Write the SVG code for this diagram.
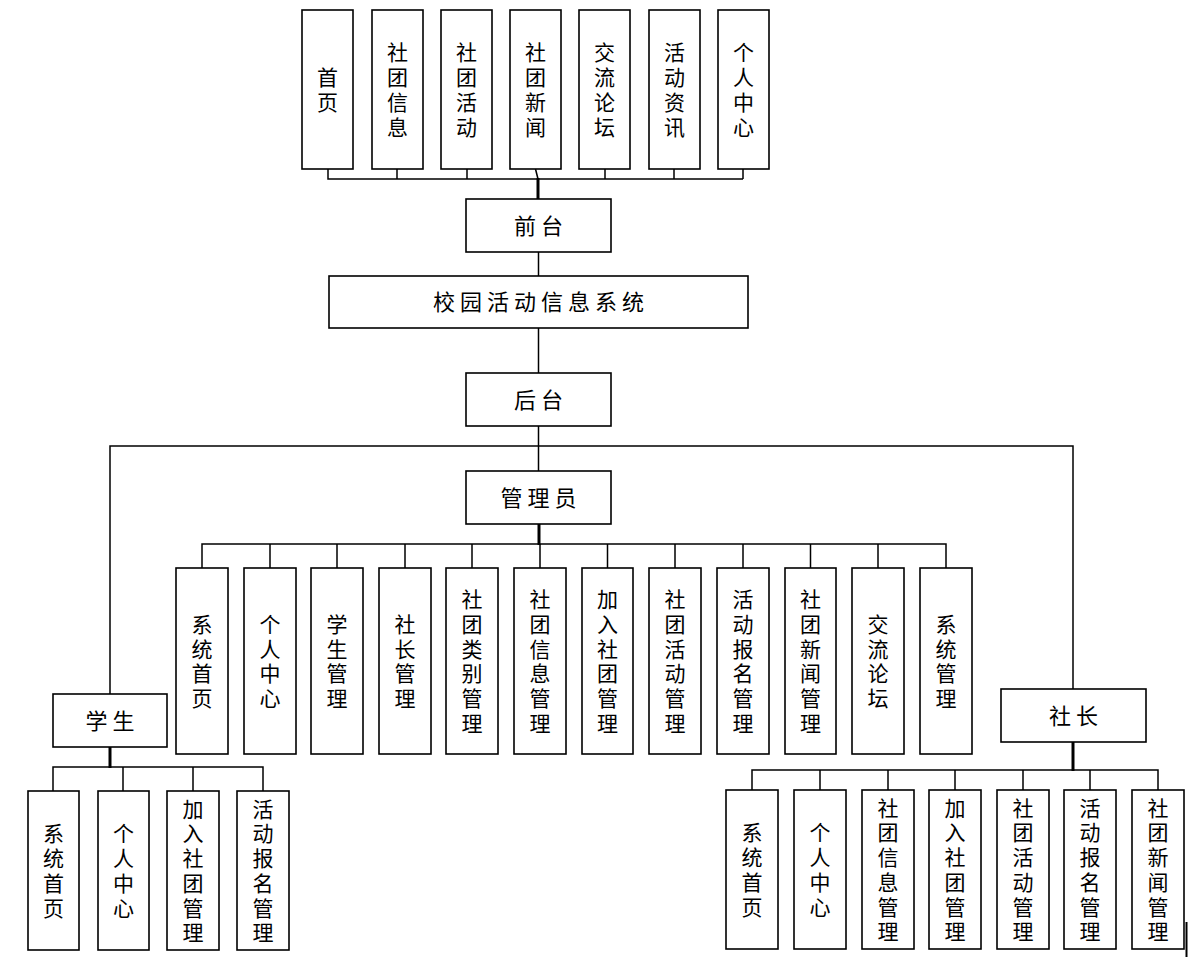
<svg xmlns="http://www.w3.org/2000/svg" width="1189" height="979" viewBox="0 0 1189 979">
<style>
rect{fill:#fff;stroke:#000;stroke-width:1.6}
line,path{stroke:#000;stroke-width:1.5;fill:none}
.trunk{stroke-width:3}
text{font-family:"Noto Sans CJK SC","Noto Sans CJK JP",sans-serif;fill:#000;text-anchor:middle}
.v{font-size:21px;writing-mode:vertical-rl;letter-spacing:3.7px}
.t{letter-spacing:4px}
.h{font-size:22px;letter-spacing:5px}
</style>
<rect x="0" y="0" width="1189" height="979" style="stroke:none"/>
<g id="connectors">
<path d="M328,169V179H743M397,169V179M467,169V179M605,169V179M674,169V179M743,169V179"/>
<line x1="535.5" y1="169" x2="538" y2="179"/>
<line class="trunk" x1="538" y1="178" x2="538" y2="199"/>
<line x1="538.5" y1="252" x2="538.5" y2="276"/>
<line x1="538.5" y1="328" x2="538.5" y2="373"/>
<line x1="538.5" y1="426" x2="538.5" y2="471"/>
<path d="M110,694V446H1073V689"/>
<line class="trunk" x1="539" y1="524" x2="539" y2="545"/>
<path d="M202,568V544H946V568M270,544V568M337,544V568M405,544V568M472,544V568M540,544V568M607.5,544V568M675,544V568M743,544V568M810.5,544V568M878,544V568"/>
<line class="trunk" x1="110" y1="747" x2="110" y2="768"/>
<path d="M53,791V767H263V791M123,767V791M193,767V791"/>
<line class="trunk" x1="1073" y1="742" x2="1073" y2="771"/>
<path d="M752,790V770H1158V790M820,770V790M888,770V790M955,770V790M1023,770V790M1090,770V790"/>
<line x1="1186.5" y1="922" x2="1186.5" y2="957" style="stroke-width:2"/>
</g>
<g id="top1"><rect x="302" y="10" width="51" height="159"/><text class="v t" x="327.5" y="91.5">首页</text></g>
<g id="top2"><rect x="372" y="10" width="51" height="159"/><text class="v t" x="397.5" y="91.5">社团信息</text></g>
<g id="top3"><rect x="441" y="10" width="51" height="159"/><text class="v t" x="466.5" y="91.5">社团活动</text></g>
<g id="top4"><rect x="510" y="10" width="51" height="159"/><text class="v t" x="535.5" y="91.5">社团新闻</text></g>
<g id="top5"><rect x="579" y="10" width="51" height="159"/><text class="v t" x="604.5" y="91.5">交流论坛</text></g>
<g id="top6"><rect x="649" y="10" width="51" height="159"/><text class="v t" x="674.5" y="91.5">活动资讯</text></g>
<g id="top7"><rect x="718" y="10" width="51" height="159"/><text class="v t" x="743.5" y="91.5">个人中心</text></g>
<g id="qiantai"><rect x="466" y="199" width="145" height="53"/><text class="h" x="541" y="234">前台</text></g>
<g id="system"><rect x="329" y="276" width="419" height="52"/><text class="h" x="541" y="310">校园活动信息系统</text></g>
<g id="houtai"><rect x="466" y="373" width="145" height="53"/><text class="h" x="541" y="408">后台</text></g>
<g id="admin"><rect x="466" y="471" width="145" height="53"/><text class="h" x="541" y="506">管理员</text></g>
<g id="a1"><rect x="176" y="568" width="52" height="186"/><text class="v" x="202" y="662.9">系统首页</text></g>
<g id="a2"><rect x="244" y="568" width="52" height="186"/><text class="v" x="270" y="662.9">个人中心</text></g>
<g id="a3"><rect x="311" y="568" width="52" height="186"/><text class="v" x="337" y="662.9">学生管理</text></g>
<g id="a4"><rect x="379" y="568" width="52" height="186"/><text class="v" x="405" y="662.9">社长管理</text></g>
<g id="a5"><rect x="446" y="568" width="52" height="186"/><text class="v" x="472" y="662.9">社团类别管理</text></g>
<g id="a6"><rect x="514" y="568" width="52" height="186"/><text class="v" x="540" y="662.9">社团信息管理</text></g>
<g id="a7"><rect x="582" y="568" width="51" height="186"/><text class="v" x="607.5" y="662.9">加入社团管理</text></g>
<g id="a8"><rect x="649" y="568" width="52" height="186"/><text class="v" x="675" y="662.9">社团活动管理</text></g>
<g id="a9"><rect x="717" y="568" width="52" height="186"/><text class="v" x="743" y="662.9">活动报名管理</text></g>
<g id="a10"><rect x="785" y="568" width="51" height="186"/><text class="v" x="810.5" y="662.9">社团新闻管理</text></g>
<g id="a11"><rect x="852" y="568" width="52" height="186"/><text class="v" x="878" y="662.9">交流论坛</text></g>
<g id="a12"><rect x="920" y="568" width="52" height="186"/><text class="v" x="946" y="662.9">系统管理</text></g>
<g id="student"><rect x="53" y="694" width="114" height="53"/><text class="h" x="112.5" y="729">学生</text></g>
<g id="s1"><rect x="28" y="791" width="51" height="159"/><text class="v" x="53.5" y="872.4">系统首页</text></g>
<g id="s2"><rect x="98" y="791" width="51" height="159"/><text class="v" x="123.5" y="872.4">个人中心</text></g>
<g id="s3"><rect x="167" y="791" width="52" height="159"/><text class="v" x="193" y="872.4">加入社团管理</text></g>
<g id="s4"><rect x="237" y="791" width="52" height="159"/><text class="v" x="263" y="872.4">活动报名管理</text></g>
<g id="leader"><rect x="1001" y="689" width="145" height="53"/><text class="h" x="1076" y="724">社长</text></g>
<g id="l1"><rect x="726" y="790" width="52" height="159"/><text class="v" x="752" y="871.4">系统首页</text></g>
<g id="l2"><rect x="794" y="790" width="52" height="159"/><text class="v" x="820" y="871.4">个人中心</text></g>
<g id="l3"><rect x="862" y="790" width="52" height="159"/><text class="v" x="888" y="871.4">社团信息管理</text></g>
<g id="l4"><rect x="929" y="790" width="52" height="159"/><text class="v" x="955" y="871.4">加入社团管理</text></g>
<g id="l5"><rect x="997" y="790" width="52" height="159"/><text class="v" x="1023" y="871.4">社团活动管理</text></g>
<g id="l6"><rect x="1064" y="790" width="52" height="159"/><text class="v" x="1090" y="871.4">活动报名管理</text></g>
<g id="l7"><rect x="1132" y="790" width="52" height="159"/><text class="v" x="1158" y="871.4">社团新闻管理</text></g>
</svg>
